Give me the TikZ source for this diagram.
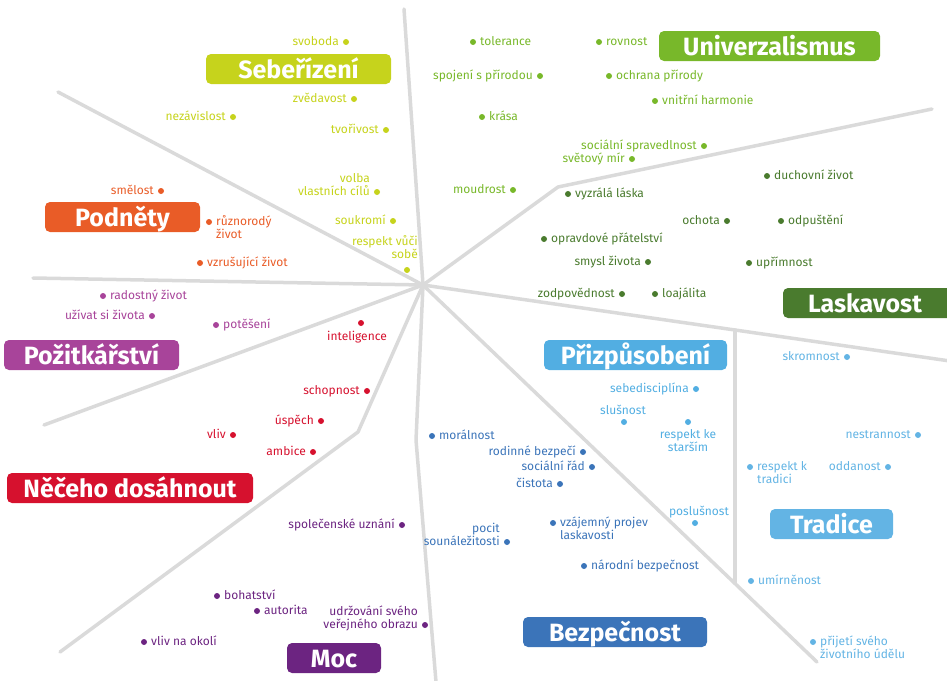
\documentclass[tikz,border=0pt]{standalone}
\usepackage{fontspec}
\setmainfont{Fira Sans}
\definecolor{linegray}{HTML}{DADADA}
\definecolor{cSD}{HTML}{C6D31C}
\definecolor{cUN}{HTML}{78B82A}
\definecolor{cBE}{HTML}{4A7B2E}
\definecolor{cST}{HTML}{E95C27}
\definecolor{cHE}{HTML}{A8449A}
\definecolor{cAC}{HTML}{D6112E}
\definecolor{cPO}{HTML}{6C2481}
\definecolor{cSE}{HTML}{3B74B9}
\definecolor{cCO}{HTML}{52AEE2}
\definecolor{cTR}{HTML}{63B4E4}
\tikzset{
  axis/.style={draw=linegray, line width=3.5pt, line cap=round, line join=round},
  catbox/.style={rectangle, rounded corners=5pt, fill=#1, text=white,
    font=\fontsize{25}{27}\selectfont\bfseries, inner sep=0pt,
    minimum height=30pt, text height=18.5pt, text depth=0pt},
  dot/.style={circle, fill=#1, inner sep=0pt, minimum size=6pt},
  lbl/.style={text=#1, font=\fontsize{12}{13}\selectfont, inner sep=0pt},
}
% text left of the dot (dot beside the last line)
\newcommand{\valL}[4]{\node[dot=#1] (#2) at (#3) {};
  \node[lbl=#1, anchor=base east, align=right] (#2t) at ([xshift=-7pt,yshift=-3.5pt]#2.center) {#4};}
% text right of the dot (one line)
\newcommand{\valR}[4]{\node[dot=#1] (#2) at (#3) {};
  \node[lbl=#1, anchor=base west, align=left] (#2t) at ([xshift=7pt,yshift=-3.5pt]#2.center) {#4};}
% two lines right of the dot, dot beside the first line
\newcommand{\valRR}[4]{\node[dot=#1] (#2) at (#3) {};
  \node[lbl=#1, anchor=base west, align=left] (#2t) at ([xshift=7pt,yshift=-16.5pt]#2.center) {#4};}
\begin{document}
\begin{tikzpicture}[x=1pt,y=-1pt]
\useasboundingbox (0,0) rectangle (947,680);
% ---- axes ----
\coordinate (c) at (423,285);
\coordinate (eTop) at (404,9);
\coordinate (eUL) at (58,92);
\coordinate (eL) at (33,278);
\coordinate (eLL) at (44,425);
\coordinate (kA) at (358,432);
\coordinate (eA) at (60,652);
\coordinate (kB) at (416,440);
\coordinate (eB) at (436,682);
\coordinate (eDR) at (817,662);
\coordinate (eR) at (950,361);
\coordinate (kU) at (558,187);
\coordinate (eU) at (932,109);
\coordinate (vT) at (735,330);
\coordinate (vB) at (735,583);
\draw[axis] (c) -- (eTop);
\draw[axis] (c) -- (eUL);
\draw[axis] (c) -- (eL);
\draw[axis] (c) -- (eLL);
\draw[axis] (c) -- (kA) -- (eA);
\draw[axis] (c) -- (kB) -- (eB);
\draw[axis] (c) -- (eDR);
\draw[axis] (c) -- (eR);
\draw[axis] (c) -- (kU) -- (eU);
\draw[axis] (vT) -- (vB);
% ---- category boxes ----
\node[catbox=cSD, minimum width=185pt] (SD) at (298.5,69) {Sebeřízení};
\node[catbox=cST, minimum width=155pt] (ST) at (122.5,217) {Podněty};
\node[catbox=cUN, minimum width=221pt] (UN) at (769.5,46) {Univerzalismus};
\node[catbox=cBE, minimum width=177pt] (BE) at (871.5,303) {Laskavost\kern13pt};
\node[catbox=cHE, minimum width=175pt] (HE) at (91.5,355) {Požitkářství};
\node[catbox=cAC, minimum width=246pt] (AC) at (130,488) {Něčeho dosáhnout};
\node[catbox=cPO, minimum width=94pt] (PO) at (334,658) {Moc};
\node[catbox=cCO, minimum width=183pt] (CO) at (635.5,355) {Přizpůsobení};
\node[catbox=cTR, minimum width=123pt] (TR) at (831.5,524) {Tradice};
\node[catbox=cSE, minimum width=184pt] (SE) at (615,632) {Bezpečnost};
% ---- Sebeřízení ----
\valL{cSD}{sd1}{346,42}{svoboda}
\valL{cSD}{sd2}{354,99}{zvědavost}
\valL{cSD}{sd3}{233,117}{nezávislost}
\valL{cSD}{sd4}{386,130}{tvořivost}
\valL{cSD}{sd5}{377,192}{volba\\vlastních cílů}
\valL{cSD}{sd6}{393,221}{soukromí}
\node[dot=cSD] (sd7) at (407,270) {};
\node[lbl=cSD, anchor=base east, align=right] (sd7t) at (418,258) {respekt vůči\\sobě};
% ---- Podněty ----
\valL{cST}{st1}{161,191}{smělost}
\valRR{cST}{st2}{209,222}{různorodý\\život}
\valR{cST}{st3}{200,263}{vzrušující život}
% ---- Požitkářství ----
\valR{cHE}{he1}{103,296}{radostný život}
\valL{cHE}{he2}{152,316}{užívat si života}
\valR{cHE}{he3}{216,325}{potěšení}
% ---- Něčeho dosáhnout ----
\node[dot=cAC] (ac1) at (361,323) {};
\node[lbl=cAC, anchor=base] (ac1t) at (357,340) {inteligence};
\valL{cAC}{ac2}{367,391}{schopnost}
\valL{cAC}{ac3}{321,421}{úspěch}
\valL{cAC}{ac4}{233,435}{vliv}
\valL{cAC}{ac5}{313,452}{ambice}
% ---- Moc ----
\valL{cPO}{po1}{402,525}{společenské uznání}
\valR{cPO}{po2}{217,596}{bohatství}
\valR{cPO}{po3}{257,611}{autorita}
\valL{cPO}{po4}{425,625}{udržování svého\\veřejného obrazu}
\valR{cPO}{po5}{144,642}{vliv na okolí}
% ---- Univerzalismus ----
\valR{cUN}{un1}{473,42}{tolerance}
\valR{cUN}{un2}{599,42}{rovnost}
\valL{cUN}{un3}{540,76}{spojení s přírodou}
\valR{cUN}{un4}{609,76}{ochrana přírody}
\valR{cUN}{un5}{655,101}{vnitřní harmonie}
\valR{cUN}{un6}{482,117}{krása}
\valL{cUN}{un7}{704,146}{sociální spravedlnost}
\valL{cUN}{un8}{632,159}{světový mír}
\valL{cUN}{un9}{513,190}{moudrost}
% ---- Laskavost ----
\valR{cBE}{be1}{767,176}{duchovní život}
\valR{cBE}{be2}{568,194}{vyzrálá láska}
\valL{cBE}{be3}{727,221}{ochota}
\valR{cBE}{be4}{781,221}{odpuštění}
\valR{cBE}{be5}{544,239}{opravdové přátelství}
\valL{cBE}{be6}{648,262}{smysl života}
\valR{cBE}{be7}{749,263}{upřímnost}
\valL{cBE}{be8}{622,294}{zodpovědnost}
\valR{cBE}{be9}{655,294}{loajálita}
% ---- Přizpůsobení ----
\valL{cCO}{co1}{696,389}{sebedisciplína}
\node[dot=cCO] (co2) at (624,422) {};
\node[lbl=cCO, anchor=base] (co2t) at (623,414) {slušnost};
\node[dot=cCO] (co3) at (688,422) {};
\node[lbl=cCO, anchor=base, align=center] (co3t) at (688,451) {respekt ke\\starším};
\node[dot=cCO] (co4) at (695,523) {};
\node[lbl=cCO, anchor=base] (co4t) at (699,515) {poslušnost};
% ---- Tradice ----
\valL{cTR}{tr1}{847,357}{skromnost}
\valL{cTR}{tr2}{918,435}{nestrannost}
\valRR{cTR}{tr3}{750,467}{respekt k\\tradici}
\valL{cTR}{tr4}{888,467}{oddanost}
\valR{cTR}{tr5}{751,581}{umírněnost}
\valRR{cTR}{tr6}{813,642}{přijetí svého\\životního údělu}
% ---- Bezpečnost ----
\valR{cSE}{se1}{432,436}{morálnost}
\valL{cSE}{se2}{583,452}{rodinné bezpečí}
\valL{cSE}{se3}{592,467}{sociální řád}
\valL{cSE}{se4}{560,484}{čistota}
\valRR{cSE}{se5}{553,523}{vzájemný projev\\laskavosti}
\valL{cSE}{se6}{507,542}{pocit\\sounáležitosti}
\valR{cSE}{se7}{584,566}{národní bezpečnost}
\end{tikzpicture}
\end{document}
